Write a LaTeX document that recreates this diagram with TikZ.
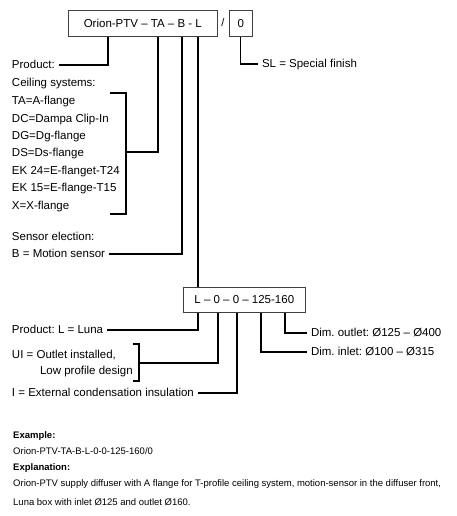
\documentclass[tikz,border=0pt]{standalone}
\usepackage{fontspec}
\setmainfont{Liberation Sans}
\usepackage{tikz}
\usetikzlibrary{positioning,calc}

\begin{document}
\frenchspacing
\begin{tikzpicture}[
  x=1pt, y=-1pt,
  codebox/.style={draw=black!75, line width=0.6pt, minimum height=26pt, inner sep=0pt, anchor=north west, font=\fontsize{11.5}{13}\selectfont},
  lbl/.style={inner sep=0pt, outer sep=4pt, anchor=west, text height=8.5pt, text depth=2pt, font=\fontsize{11.5}{13}\selectfont},
  note/.style={inner sep=0pt, anchor=base west, font=\fontsize{9.5}{11}\selectfont},
  link/.style={line width=1.2pt, black},
]
\useasboundingbox (0,0) rectangle (456,516);

% code boxes
\node[codebox, minimum width=149pt] (code) at (68,10) {Orion-PTV -- TA -- B - L};
\node[font=\fontsize{11}{13}\selectfont, inner sep=0pt] (slash) at (223,23) {/};
\node[codebox, minimum width=23pt] (fin) at (229,10) {0};
\node[codebox, minimum width=122pt, minimum height=25pt] (box) at (183,287) {L -- 0 -- 0 -- 125-160};

\coordinate (tProd) at ([xshift=40pt]code.south west);
\coordinate (tCeil) at ([xshift=90pt]code.south west);
\coordinate (tSens) at ([xshift=114pt]code.south west);
\coordinate (tBox)  at ([xshift=130pt]code.south west);
\coordinate (tFin)  at (fin.south);

\coordinate (tLuna) at ([xshift=15pt]box.south west);
\coordinate (tUI)   at ([xshift=35pt]box.south west);
\coordinate (tIns)  at ([xshift=54pt]box.south west);
\coordinate (tIn)   at ([xshift=78pt]box.south west);
\coordinate (tOut)  at ([xshift=102pt]box.south west);

% left labels
\node[lbl] (product) at (8,65) {Product:};
\node[lbl] (ceil) at (8,83) {Ceiling systems:};
\node[lbl] (ta) at (8,101) {TA=A-flange};
\node[lbl] (dc) at (8,119) {DC=Dampa Clip-In};
\node[lbl] (dg) at (8,136) {DG=Dg-flange};
\node[lbl] (ds) at (8,153) {DS=Ds-flange};
\node[lbl] (ek24) at (8,171) {EK 24=E-flanget-T24};
\node[lbl] (ek15) at (8,188) {EK 15=E-flange-T15};
\node[lbl] (xfl) at (8,206) {X=X-flange};
\node[lbl] (sens) at (8,237) {Sensor election:};
\node[lbl] (motion) at (8,254) {B = Motion sensor};
\node[lbl] (luna) at (8,330) {Product: L = Luna};
\node[lbl] (ui) at (8,355) {UI = Outlet installed,};
\node[lbl] (low) at (36,371) {Low profile design};
\node[lbl] (ins) at (8,393) {I = External condensation insulation};

% right labels
\node[lbl] (sl) at (258,64) {SL = Special finish};
\node[lbl] (dout) at (307,333) {Dim. outlet: Ø125 -- Ø400};
\node[lbl] (din) at (307,352) {Dim. inlet: Ø100 -- Ø315};

% brackets
\draw[link] (110,93) -| (126,214) -- (110,214);
\coordinate (ceilmid) at (126,152);
\draw[link] (133,344) -| (139,381) -- (133,381);
\coordinate (uimid) at (139,363);

% connectors
\draw[link] (tProd) |- (product.east);
\draw[link] (tCeil) |- (ceilmid);
\draw[link] (tSens) |- (motion.east);
\draw[link] (tBox) -- (tBox |- box.north);
\draw[link] (tFin) |- (sl.west);
\draw[link] (tLuna) |- (luna.east);
\draw[link] (tUI) |- (uimid);
\draw[link] (tIns) |- (ins.east);
\draw[link] (tIn) |- (din.west);
\draw[link] (tOut) |- (dout.west);

% example text
\node[note, font=\fontsize{9.5}{11}\selectfont\bfseries] (ex) at (13,438) {Example:};
\node[note] (excode) at (13,454) {Orion-PTV-TA-B-L-0-0-125-160/0};
\node[note, font=\fontsize{9.5}{11}\selectfont\bfseries] (expl) at (13,470) {Explanation:};
\node[note] (expl1) at (13,486) {Orion-PTV supply diffuser with A flange for T-profile ceiling system, motion-sensor in the diffuser front,};
\node[note] (expl2) at (13,505) {Luna box with inlet Ø125 and outlet Ø160.};

\end{tikzpicture}
\end{document}
